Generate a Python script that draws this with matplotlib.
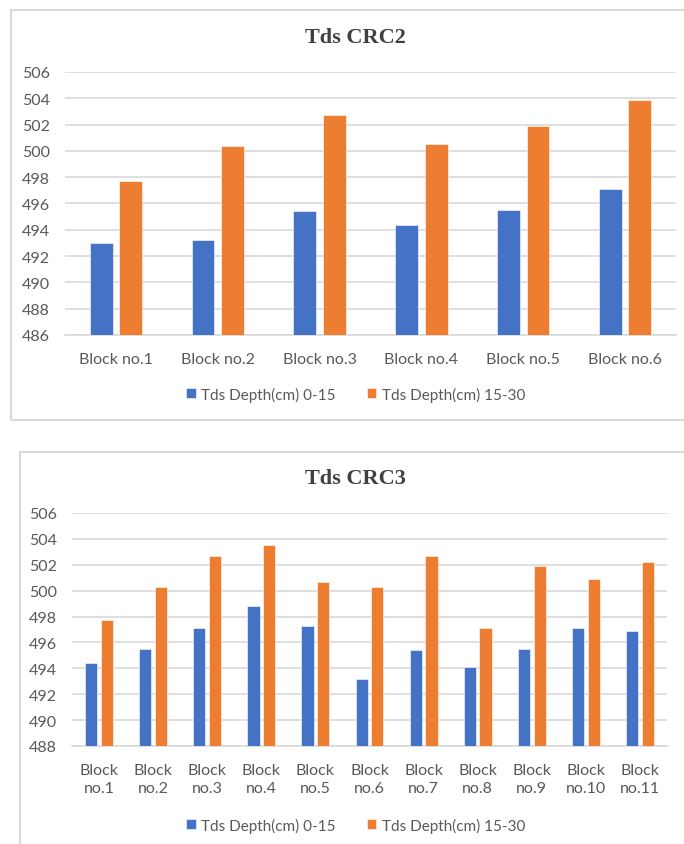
import matplotlib
matplotlib.use("Agg")
import matplotlib.pyplot as plt
from matplotlib.patches import Rectangle
import numpy as np

# TDS readings (ppm) per block, two sampling depths
crc2_blocks = ["Block no.1", "Block no.2", "Block no.3", "Block no.4", "Block no.5", "Block no.6"]
crc2_0_15 = [493.0, 493.2, 495.4, 494.4, 495.5, 497.1]
crc2_15_30 = [497.7, 500.4, 502.7, 500.5, 501.9, 503.9]

crc3_blocks = ["Block\nno.1", "Block\nno.2", "Block\nno.3", "Block\nno.4", "Block\nno.5",
               "Block\nno.6", "Block\nno.7", "Block\nno.8", "Block\nno.9", "Block\nno.10",
               "Block\nno.11"]
crc3_0_15 = [494.4, 495.5, 497.1, 498.8, 497.3, 493.2, 495.4, 494.1, 495.5, 497.1, 496.9]
crc3_15_30 = [497.7, 500.3, 502.7, 503.5, 500.7, 500.3, 502.7, 497.1, 501.9, 500.9, 502.2]

series_names = ["Tds Depth(cm) 0-15", "Tds Depth(cm) 15-30"]

BLUE = "#4472C4"
ORANGE = "#ED7D31"
GRID = "#D9D9D9"
TXT = "#595959"
W, H = 684, 845

plt.rcParams["font.family"] = ["Lato", "DejaVu Sans"]

fig = plt.figure(figsize=(W / 100, H / 100), dpi=100)


def px_axes(x0, y0, x1, y1):
    """axes from pixel box (top-left origin)"""
    return fig.add_axes([x0 / W, 1 - y1 / H, (x1 - x0) / W, (y1 - y0) / H])


def panel_box(x0, y0, x1, y1):
    fig.patches.append(Rectangle((x0 / W, 1 - y1 / H), (x1 - x0) / W, (y1 - y0) / H,
                                 transform=fig.transFigure, fill=False,
                                 edgecolor=GRID, lw=1.5, zorder=0))


def draw(ax, cats, a, b, ylim, title, title_y, legend_y):
    x = np.arange(len(cats))
    w, off = 0.225, 0.145
    ax.bar(x - off, np.array(a) - ylim[0], w, bottom=ylim[0], color=BLUE,
           edgecolor="white", lw=0.4, label=series_names[0], zorder=3)
    ax.bar(x + off, np.array(b) - ylim[0], w, bottom=ylim[0], color=ORANGE,
           edgecolor="white", lw=0.4, label=series_names[1], zorder=3)
    ax.set_xlim(-0.5, len(cats) - 0.5)
    ax.set_ylim(*ylim)
    ax.set_yticks(np.arange(ylim[0], ylim[1] + 1, 2))
    ax.set_xticks(x)
    ax.set_xticklabels(cats, linespacing=1.4)
    ax.grid(axis="y", color=GRID, lw=1.2, zorder=0)
    for s in ["top", "right", "left"]:
        ax.spines[s].set_visible(False)
    ax.spines["bottom"].set_color(GRID)
    ax.spines["bottom"].set_linewidth(1.2)
    ax.tick_params(length=0, colors=TXT, labelsize=11.5)
    ax.tick_params(axis="y", pad=11)
    ax.tick_params(axis="x", pad=12)
    fig.text(0.52, 1 - title_y / H, title, ha="center", va="center",
             fontsize=16, fontweight="bold", family="Liberation Serif", color="#404040")
    fig.legend(*ax.get_legend_handles_labels(), loc="center",
               bbox_to_anchor=(0.52, 1 - legend_y / H), ncol=2, frameon=False,
               fontsize=11, labelcolor=TXT, handlelength=0.65, handleheight=0.65,
               handletextpad=0.35, columnspacing=2.0)


panel_box(11, 11, 700, 421)
panel_box(20, 453, 700, 860)

ax1 = px_axes(65, 73, 676, 336)
draw(ax1, crc2_blocks, crc2_0_15, crc2_15_30, (486, 506), "Tds CRC2", 38, 395)

ax2 = px_axes(72, 514, 667, 747)
draw(ax2, crc3_blocks, crc3_0_15, crc3_15_30, (488, 506), "Tds CRC3", 479, 826)

fig.savefig("out.png", dpi=100)
